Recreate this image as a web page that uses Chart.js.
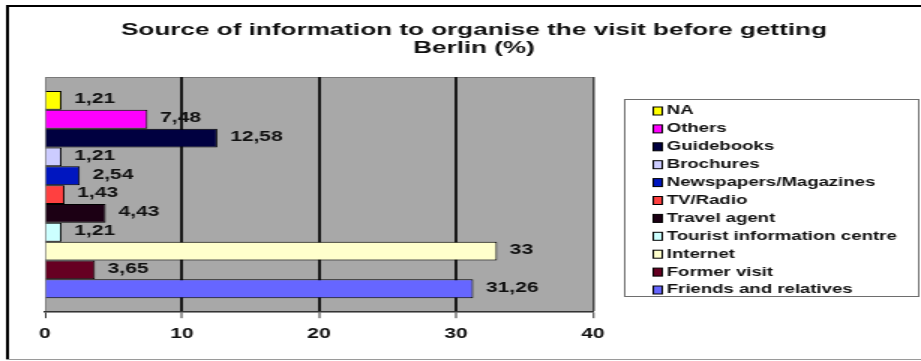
<!DOCTYPE html>
<html>
<head>
<meta charset="utf-8">
<script src="https://cdn.jsdelivr.net/npm/chart.js@4.4.1/dist/chart.umd.min.js"></script>
<style>
  html, body { margin: 0; padding: 0; background: #fff; overflow: hidden; }
  /* the source picture is a horizontally stretched Excel chart */
  #wrap { width: 614px; height: 361px; transform: scaleX(1.5); transform-origin: 0 0; }
</style>
</head>
<body>
<div id="wrap"><canvas id="chart" width="614" height="361"></canvas></div>
<script>
const titleLines = ['Source of information to organise the visit before getting', 'Berlin (%)'];
const categories = ['NA', 'Others', 'Guidebooks', 'Brochures', 'Newspapers/Magazines', 'TV/Radio',
  'Travel agent', 'Tourist information centre', 'Internet', 'Former visit', 'Friends and relatives'];
const values = [1.21, 7.48, 12.58, 1.21, 2.54, 1.43, 4.43, 1.21, 33, 3.65, 31.26];
const xTicks = [0, 10, 20, 30, 40];

const barColors = ['#ffff00', '#ff00ff', '#000040', '#ccccff', '#0016c0', '#ff4040',
  '#1c0014', '#ccffff', '#ffffcc', '#660022', '#6666ff'];

const FONT = '"Liberation Sans", Arial, sans-serif';

// background, outer frame, plot area fill and title
const framePlugin = {
  id: 'frame',
  beforeDraw(chart) {
    const { ctx, chartArea: a, width } = chart;
    ctx.save();
    ctx.fillStyle = '#fff';
    ctx.fillRect(0, 0, width, chart.height);

    ctx.strokeStyle = '#000';
    ctx.lineWidth = 2;
    ctx.beginPath(); ctx.moveTo(4, 6); ctx.lineTo(width, 6); ctx.stroke();
    ctx.beginPath(); ctx.moveTo(5, 5); ctx.lineTo(5, 359); ctx.stroke();
    ctx.strokeStyle = '#9a9a9a';
    ctx.lineWidth = 1;
    ctx.beginPath(); ctx.moveTo(4, 359.5); ctx.lineTo(width, 359.5); ctx.stroke();

    ctx.fillStyle = '#a8a8a8';
    ctx.fillRect(a.left, a.top, a.width, a.height);
    ctx.strokeStyle = '#7a7a7a';
    ctx.beginPath(); ctx.moveTo(a.left, a.top + 0.5); ctx.lineTo(a.right, a.top + 0.5); ctx.stroke();

    ctx.fillStyle = '#111';
    ctx.font = 'bold 17.4px ' + FONT;
    ctx.textAlign = 'center';
    ctx.textBaseline = 'middle';
    ctx.fillText(titleLines[0], 316, 30);
    ctx.fillText(titleLines[1], 316, 48);
    ctx.restore();
  }
};

// value labels to the right of each bar
const valueLabels = {
  id: 'valueLabels',
  afterDatasetsDraw(chart) {
    const { ctx } = chart;
    ctx.save();
    ctx.fillStyle = '#111';
    ctx.font = 'bold 14px ' + FONT;
    ctx.textAlign = 'left';
    ctx.textBaseline = 'middle';
    chart.data.datasets.forEach((ds, i) => {
      const bar = chart.getDatasetMeta(i).data[0];
      ctx.fillText(String(ds.data[0]).replace('.', ','), bar.x + 8.5, bar.y - 1);
    });
    ctx.restore();
  }
};

// boxed legend on the right
const boxLegend = {
  id: 'boxLegend',
  afterDraw(chart) {
    const { ctx } = chart;
    ctx.save();
    ctx.fillStyle = '#fff';
    ctx.fillRect(416, 99, 197, 198);
    ctx.strokeStyle = '#6e6e6e';
    ctx.lineWidth = 1;
    ctx.strokeRect(416.5, 99.5, 196, 197);
    ctx.font = 'bold 12.4px ' + FONT;
    ctx.textAlign = 'left';
    ctx.textBaseline = 'middle';
    chart.data.datasets.forEach((ds, i) => {
      const y = 111 + i * 17.9;
      ctx.fillStyle = ds.backgroundColor;
      ctx.fillRect(435.5, y - 4, 6, 8);
      ctx.strokeStyle = '#000';
      ctx.strokeRect(435.5, y - 4, 6, 8);
      ctx.fillStyle = '#111';
      ctx.fillText(ds.label, 444.5, y);
    });
    ctx.restore();
  }
};

new Chart(document.getElementById('chart'), {
  type: 'bar',
  data: {
    labels: [''],
    datasets: categories.map((c, i) => ({
      label: c,
      data: [values[i]],
      backgroundColor: barColors[i],
      borderColor: '#000',
      borderWidth: 1
    }))
  },
  options: {
    indexAxis: 'y',
    responsive: false,
    animation: false,
    layout: { padding: { left: 30, right: 218.7, top: 77, bottom: 10 } },
    datasets: { bar: { categoryPercentage: 0.881, barPercentage: 1 } },
    plugins: { legend: { display: false }, title: { display: false }, tooltip: { enabled: false } },
    scales: {
      y: { display: false },
      x: {
        min: 0,
        max: 40,
        afterBuildTicks: s => { s.ticks = xTicks.map(v => ({ value: v })); },
        ticks: { color: '#111', font: { family: FONT, size: 14, weight: 'bold' }, padding: 8 },
        grid: {
          color: c => c.tick && c.tick.value === 0 ? '#808080' : (c.tick && c.tick.value === 40 ? '#444' : '#1a1a1a'),
          lineWidth: c => c.tick && c.tick.value === 0 ? 1 : (c.tick && c.tick.value === 40 ? 1.5 : 2),
          tickLength: 6,
          tickColor: '#333',
          tickWidth: 1
        },
        border: { color: '#333', width: 1.5 }
      }
    }
  },
  plugins: [framePlugin, valueLabels, boxLegend]
});
</script>
</body>
</html>
